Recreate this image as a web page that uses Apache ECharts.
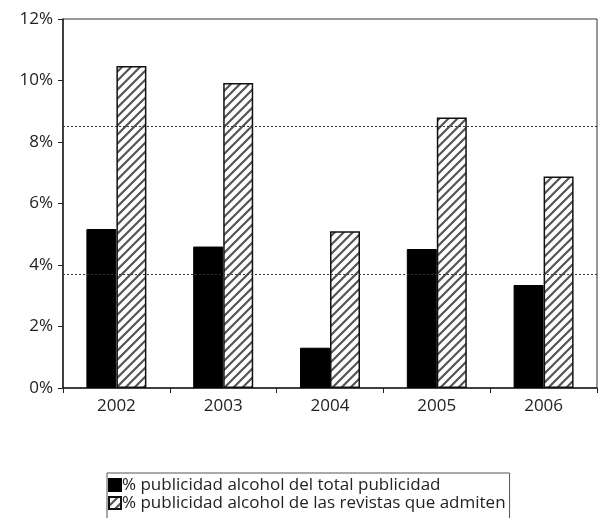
<!DOCTYPE html>
<html>
<head>
<meta charset="utf-8">
<script src="https://cdn.jsdelivr.net/npm/echarts@6/dist/echarts.min.js"></script>
<style>
  html, body { margin: 0; padding: 0; background: #fff; }
  #chart { width: 598px; height: 518px; }
</style>
</head>
<body>
<div id="chart"></div>
<script>
// Alcohol advertising share per year
const years = ['2002', '2003', '2004', '2005', '2006'];
const totalShare = [5.17, 4.6, 1.31, 4.52, 3.35];
const magazineShare = [10.47, 9.92, 5.1, 8.8, 6.88];
const referenceLevels = [8.5, 3.7];
const seriesNames = [
  '% publicidad alcohol del total publicidad',
  '% publicidad alcohol de las revistas que admiten'
];

// Diagonal hatch fill used for the magazine series
function makeHatch() {
  const s = 9;
  const c = document.createElement('canvas');
  c.width = s; c.height = s;
  const g = c.getContext('2d');
  g.fillStyle = '#fff';
  g.fillRect(0, 0, s, s);
  g.strokeStyle = '#555';
  g.lineWidth = 2.2;
  g.beginPath();
  g.moveTo(-2, s + 2); g.lineTo(s + 2, -2);
  g.moveTo(-2, 2); g.lineTo(2, -2);
  g.moveTo(s - 2, s + 2); g.lineTo(s + 2, s - 2);
  g.stroke();
  return c;
}
const hatch = { image: makeHatch(), repeat: 'repeat' };

const font = 'Open Sans';
const chart = echarts.init(document.getElementById('chart'));
chart.setOption({
  animation: false,
  backgroundColor: '#fff',
  textStyle: { fontFamily: font },
  grid: {
    left: 63, top: 19, right: 1, bottom: 130,
    show: true, borderColor: '#333', borderWidth: 1
  },
  legend: {
    orient: 'vertical',
    left: 107, top: 473,
    height: 60,
    padding: [3, 4, 12, 1],
    itemGap: 0,
    itemWidth: 12, itemHeight: 12,
    borderColor: '#555', borderWidth: 1,
    textStyle: {
      fontFamily: font, fontSize: 17, lineHeight: 18, color: '#222',
      padding: [0, 0, 0, -4]
    },
    data: seriesNames.map(n => ({ name: n, icon: 'rect' }))
  },
  xAxis: {
    type: 'category',
    data: years,
    axisLine: { lineStyle: { color: '#222', width: 1.5 } },
    axisTick: { show: true, length: 5, lineStyle: { color: '#222' } },
    axisLabel: { fontFamily: font, fontSize: 17, color: '#222', margin: 10 }
  },
  yAxis: {
    type: 'value',
    min: 0, max: 12, interval: 2,
    axisLine: { show: true, lineStyle: { color: '#222', width: 1.5 } },
    axisTick: { show: true, length: 5, lineStyle: { color: '#222' } },
    splitLine: { show: false },
    axisLabel: { fontFamily: font, fontSize: 17, color: '#222', margin: 10, formatter: '{value}%' }
  },
  series: [
    {
      name: seriesNames[0],
      type: 'bar',
      data: totalShare,
      barWidth: 30,
      barGap: '0%',
      itemStyle: { color: '#000', borderColor: '#000', borderWidth: 1 },
      markLine: {
        silent: true,
        symbol: ['none', 'none'],
        label: { show: false },
        lineStyle: { type: [2, 2], color: '#333', width: 1 },
        data: referenceLevels.map(v => ({ yAxis: v }))
      }
    },
    {
      name: seriesNames[1],
      type: 'bar',
      data: magazineShare,
      barWidth: 30,
      barGap: '0%',
      itemStyle: { color: hatch, borderColor: '#111', borderWidth: 1.5 }
    }
  ]
});
</script>
</body>
</html>
